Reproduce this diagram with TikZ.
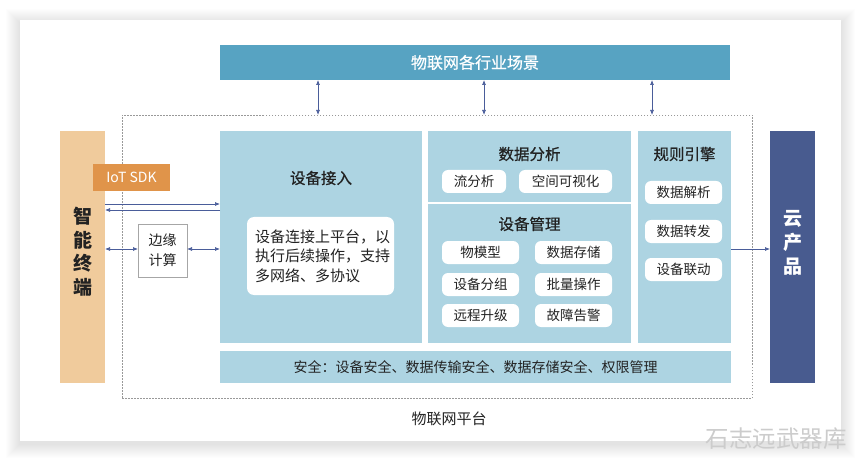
\documentclass[tikz,border=0pt]{standalone}
\usepackage{fontspec}
\setmainfont{Noto Sans CJK SC}
\newfontfamily\ttlfont{Noto Sans CJK SC}[FakeBold=0.7]
\usetikzlibrary{arrows.meta}
\definecolor{bannerc}{HTML}{57A3C2}
\definecolor{panelc}{HTML}{ADD4E2}
\definecolor{termc}{HTML}{F0CB9C}
\definecolor{sdkc}{HTML}{E0944A}
\definecolor{cloudc}{HTML}{485B8F}
\definecolor{arrc}{HTML}{4A5D9A}
\definecolor{txtc}{HTML}{222222}
\tikzset{
  box/.style={anchor=north west, inner sep=0pt, outer sep=0pt},
  panel/.style={box, fill=panelc},
  pill/.style={box, fill=white, rounded corners=6pt, minimum height=23pt, text=txtc, font=\fontsize{13.5}{16}\selectfont},
  ttl/.style={text=txtc, font=\ttlfont\fontsize{15.5}{18}\selectfont, inner sep=0pt},
  arr/.style={draw=arrc, line width=0.7pt, -{Latex[length=5pt,width=4pt]}},
  darr/.style={draw=arrc, line width=0.7pt, {Latex[length=5pt,width=4pt]}-{Latex[length=5pt,width=4pt]}},
}
\begin{document}
\begin{tikzpicture}[x=1pt,y=-1pt]
\useasboundingbox (0,0) rectangle (861,462);
\fill[white] (0,0) rectangle (861,462);
\foreach \i in {1,...,14}
  \fill[black,opacity=0.006] (20-\i,20-\i+3) rectangle (841+\i,441+\i+3);
\fill[white] (20,20) rectangle (841,441);

% helper coordinates
\coordinate (x318) at (318,0);
\coordinate (x484) at (484,0);
\coordinate (x652) at (652,0);
\coordinate (y204) at (0,204);
\coordinate (y210) at (0,210);
\coordinate (y249) at (0,249);

% top banner
\node[box, fill=bannerc, minimum width=510pt, minimum height=35pt, text=white,
      font=\ttlfont\fontsize{16}{18}\selectfont] (banner) at (220,45) {物联网各行业场景};

% platform dashed frame
\node[box, draw=gray!80, dash pattern=on 1.5pt off 1.5pt, line width=0.7pt,
      minimum width=630pt, minimum height=283pt] (platform) at (122,115) {};
\node[text=txtc, font=\fontsize{15}{18}\selectfont, inner sep=0pt] (platlabel) at (449,419) {物联网平台};

% banner arrows
\draw[darr] (banner.south -| x318) -- (platform.north -| x318);
\draw[darr] (banner.south -| x484) -- (platform.north -| x484);
\draw[darr] (banner.south -| x652) -- (platform.north -| x652);

% smart terminal column
\node[box, fill=termc, minimum width=45pt, minimum height=252pt] (term) at (60,131) {};
\node[align=center, text=txtc, font=\fontsize{19}{23.5}\selectfont\bfseries, inner sep=0pt] (termlabel) at (82.5,251.5) {智\\能\\终\\端};
\node[box, fill=sdkc, minimum width=77pt, minimum height=27pt, text=white,
      font=\fontsize{14}{16}\selectfont] (sdk) at (93,164) {IoT SDK};

% edge computing
\node[box, fill=white, draw=gray!70, line width=0.6pt, minimum width=49pt, minimum height=53pt,
      align=center, text=txtc, font=\fontsize{14}{20}\selectfont] (edge) at (138,224) {边缘\\计算};

% device access panel
\node[panel, minimum width=202pt, minimum height=212pt] (access) at (220,131) {};
\node[ttl] (accesst) at (321,178) {设备接入};
\node[box, fill=white, rounded corners=7pt, minimum width=147pt, minimum height=78pt] (accessbox) at (247,217) {};
\node[anchor=west, align=left, inner sep=0pt, text=txtc, font=\fontsize{15}{19.5}\selectfont] (accesstext) at (255,256)
  {设备连接上平台，以\\执行后续操作，支持\\多网络、多协议};

% arrows terminal <-> access
\draw[arr] (term.east |- y204) -- (access.west |- y204);
\draw[arr] (access.west |- y210) -- (term.east |- y210);
\draw[darr] (term.east |- y249) -- (edge.west |- y249);
\draw[darr] (edge.east |- y249) -- (access.west |- y249);

% data analysis panel
\node[panel, minimum width=203pt, minimum height=71pt] (analysis) at (428,131) {};
\node[ttl] (analysist) at (529.5,154) {数据分析};
\node[pill, minimum width=64pt] (p1) at (442,170) {流分析};
\node[pill, minimum width=93pt] (p2) at (519,170) {空间可视化};

% device management panel
\node[panel, minimum width=203pt, minimum height=139pt] (mgmt) at (428,204) {};
\node[ttl] (mgmtt) at (529.5,224) {设备管理};
\node[pill, minimum width=77pt] (m1) at (442,241) {物模型};
\node[pill, minimum width=77pt] (m2) at (535,241) {数据存储};
\node[pill, minimum width=77pt] (m3) at (442,273) {设备分组};
\node[pill, minimum width=77pt] (m4) at (535,273) {批量操作};
\node[pill, minimum width=77pt] (m5) at (442,304) {远程升级};
\node[pill, minimum width=77pt] (m6) at (535,304) {故障告警};

% rule engine panel
\node[panel, minimum width=93pt, minimum height=212pt] (rules) at (638,131) {};
\node[ttl] (rulest) at (684.5,154) {规则引擎};
\node[pill, minimum width=77pt] (r1) at (645,181) {数据解析};
\node[pill, minimum width=77pt] (r2) at (645,220) {数据转发};
\node[pill, minimum width=77pt] (r3) at (645,258) {设备联动};

% security bar
\node[panel, minimum width=511pt, minimum height=32pt, text=txtc,
      font=\fontsize{14}{16}\selectfont] (security) at (220,351) {安全：设备安全、数据传输安全、数据存储安全、权限管理};

% cloud products
\node[box, fill=cloudc, minimum width=45pt, minimum height=252pt] (cloud) at (770,131) {};
\node[align=center, text=white, font=\fontsize{19}{24}\selectfont\bfseries, inner sep=0pt] (cloudlabel) at (792.5,243) {云\\产\\品};
\draw[arr] (rules.east |- y249) -- (cloud.west |- y249);

% watermark
\node[text=gray!40, font=\fontsize{23.5}{25}\selectfont, inner sep=0pt] (wm) at (776,439) {石志远武器库};
\end{tikzpicture}
\end{document}
